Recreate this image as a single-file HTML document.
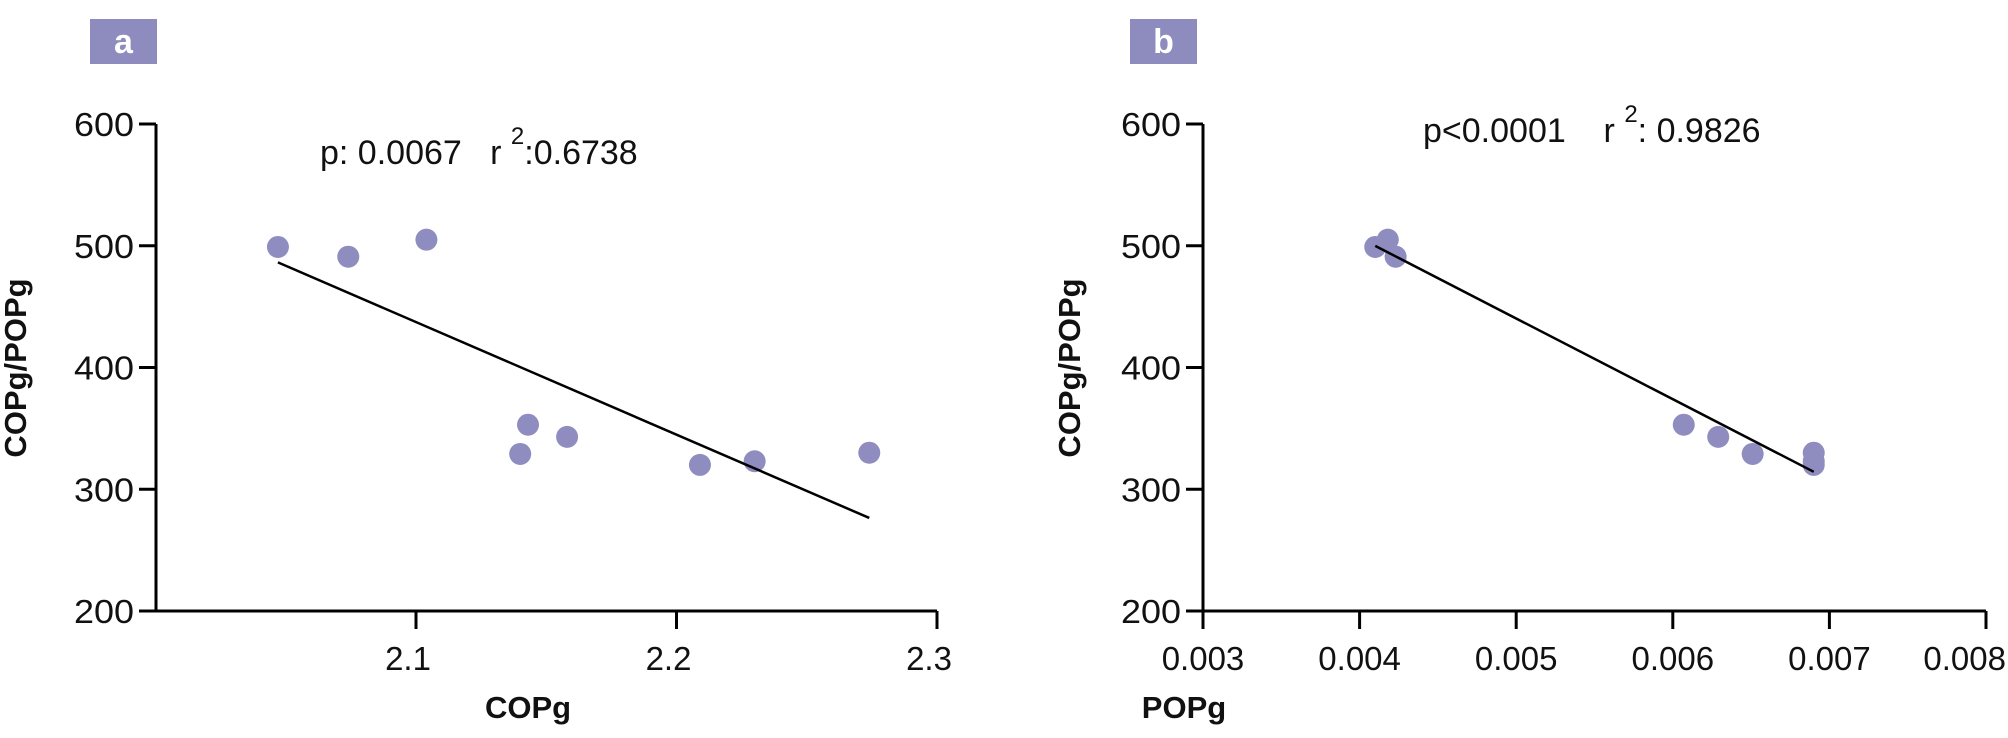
<!DOCTYPE html>
<html><head><meta charset="utf-8"><style>
body{margin:0;background:#fff;}
svg{display:block;font-family:"Liberation Sans",Arial,sans-serif;}
text{white-space:pre;}
</style></head><body>
<svg id="chart" width="2008" height="738" viewBox="0 0 2008 738"></svg>
<script>
const aX=[2.047,2.074,2.104,2.140,2.143,2.158,2.209,2.230,2.274];
const aY=[499,491,505,329,353,343,320,323,330];
const bX=[0.00410,0.00418,0.00423,0.00607,0.00629,0.00651,0.00690,0.00690,0.00690];
const bY=[499,505,491,353,343,329,330,323,320];
const yTicks=[200,300,400,500,600];
const aXTicks=[2.1,2.2,2.3];
const aXTickLabels=["2.1","2.2","2.3"];
const bXTicks=[0.003,0.004,0.005,0.006,0.007,0.008];
const bXTickLabels=["0.003","0.004","0.005","0.006","0.007","0.008"];

const NS="http://www.w3.org/2000/svg";
const svg=document.getElementById('chart');
function mk(tag,attrs,parent,text){const e=document.createElementNS(NS,tag);for(const k in attrs)e.setAttribute(k,attrs[k]);if(text!==undefined)e.textContent=text;(parent||svg).appendChild(e);return e;}
const yScale=v=>611-(v-200)*(611-124)/400;

function panel(cfg){
  const g=mk('g',{});
  
  
  const xs=v=>cfg.x0px+(v-cfg.x0)*cfg.pxPer;
  const box=mk('rect',{x:cfg.boxX,y:19,width:67,height:45,fill:'#8e8cbf'},g);
  
  
  const lt=mk('text',{x:cfg.boxX+33.5,y:53,'text-anchor':'middle','font-size':34,'font-weight':'bold',fill:'#fff'},g,cfg.letter);
  
  
  const ya=mk('line',{x1:cfg.axX,y1:124,x2:cfg.axX,y2:611,stroke:'#000','stroke-width':3},g);
  
  
  const xa=mk('line',{x1:cfg.axX,y1:611,x2:cfg.xEnd,y2:611,stroke:'#000','stroke-width':3},g);
  
  
  yTicks.forEach(t=>{
    const y=yScale(t);
    const tk=mk('line',{x1:cfg.axX-17,y1:y,x2:cfg.axX,y2:y,stroke:'#000','stroke-width':3},g);
    
    
    const tl=mk('text',{x:cfg.axX-22,y:y+12,'text-anchor':'end','font-size':33,fill:'#111',textLength:60,lengthAdjust:'spacingAndGlyphs'},g,String(t));
    
    
  });
  cfg.xt.forEach((t,i)=>{
    const x=xs(t);
    const tk=mk('line',{x1:x,y1:611,x2:x,y2:629,stroke:'#000','stroke-width':3},g);
    
    
    const last=(x>1960);
    const tl=mk('text',{x:last?2006:x+cfg.xlOff,y:670,'text-anchor':last?'end':'middle','font-size':33,fill:'#111'},g,cfg.xtl[i]);
    
    
  });
  const yt=mk('text',{x:0,y:0,'text-anchor':'middle','font-size':31,'font-weight':'bold',fill:'#111',transform:`translate(${cfg.ytX},368) rotate(-90)`},g,'COPg/POPg');
  
  
  const xt=mk('text',{x:cfg.xtX,y:718,'text-anchor':'middle','font-size':31,'font-weight':'bold',fill:'#111'},g,cfg.xTitle);
  
  
  const st=mk('text',{x:cfg.stX,y:cfg.stY,'font-size':34,fill:'#111'},g);
  
  
  mk('tspan',{},st,cfg.p);
  mk('tspan',{dy:-20,'font-size':24},st,'2');
  mk('tspan',{dy:20},st,cfg.r);
  cfg.X.forEach((v,i)=>{
    const c=mk('circle',{cx:xs(v),cy:yScale(cfg.Y[i]),r:11,fill:'#8f8dc0'},g);
    
    
  });
  const n=cfg.X.length;let mx=0,my=0;cfg.X.forEach((v,i)=>{mx+=v;my+=cfg.Y[i];});mx/=n;my/=n;
  let sxy=0,sxx=0;cfg.X.forEach((v,i)=>{sxy+=(v-mx)*(cfg.Y[i]-my);sxx+=(v-mx)*(v-mx);});
  const sl=sxy/sxx,ic=my-sl*mx;const xmin=Math.min(...cfg.X),xmax=Math.max(...cfg.X);
  const ln=mk('line',{x1:xs(xmin),y1:yScale(ic+sl*xmin),x2:xs(xmax),y2:yScale(ic+sl*xmax),stroke:'#000','stroke-width':2.5},g);
  
  
}
panel({name:'panel-a',letter:'a',boxX:90,axX:156,xEnd:937,x0:2.1,x0px:416,pxPer:2605,xt:aXTicks,xtl:aXTickLabels,xlOff:-8,X:aX,Y:aY,ytX:26,xtX:528,xTitle:'COPg',stX:320,stY:164,p:'p: 0.0067   r ',r:':0.6738'});
panel({name:'panel-b',letter:'b',boxX:1130,axX:1203,xEnd:1986,x0:0.003,x0px:1203,pxPer:156600,xt:bXTicks,xtl:bXTickLabels,xlOff:0,X:bX,Y:bY,ytX:1080,xtX:1184,xTitle:'POPg',stX:1423,stY:142,p:'p<0.0001    r ',r:': 0.9826'});
</script>
</body></html>
